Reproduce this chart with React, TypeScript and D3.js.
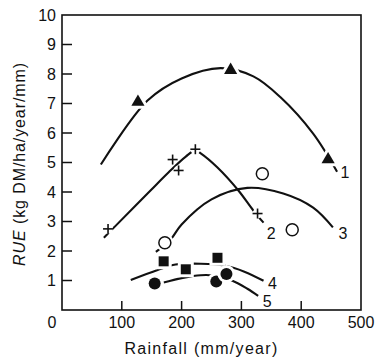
import React from 'react';
import * as d3 from 'd3';

// fitted curves (rainfall mm/year, RUE)
const curve1 = [[65, 4.93], [143, 7.1], [200, 7.85], [265, 8.2], [320, 7.92], [365, 7.22], [420, 5.98], [460, 4.69]];
const curve2 = [[70, 2.45], [90, 2.86], [148, 4.05], [178, 4.66], [207, 5.2], [223, 5.41], [232, 5.31], [260, 4.83], [295, 4.05], [320, 3.37], [337, 2.96]];
const curve3 = [[157, 1.97], [182, 2.4], [200, 2.9], [250, 3.75], [310, 4.14], [370, 3.95], [420, 3.47], [453, 2.8]];
const curve4 = [[115, 1.02], [160, 1.36], [190, 1.54], [232, 1.57], [273, 1.5], [305, 1.3], [337, 0.99]];
const curve5 = [[170, 0.93], [202, 1.09], [232, 1.18], [253, 1.17], [285, 0.99], [310, 0.72], [328, 0.48]];

// observed points
const triangles = [[127, 7.05], [282, 8.13], [445, 5.1]];
const pluses = [[77, 2.75], [185, 5.1], [195, 4.73], [223, 5.45], [327, 3.27]];
const openCircles = [[172, 2.28], [335, 4.62], [385, 2.72]];
const squares = [[170, 1.65], [207, 1.38], [260, 1.77]];
const dots = [[155, 0.9], [258, 0.97], [275, 1.22]];

// curve number labels
const curveLabels = [
  { text: '1', x: 473, y: 4.65 },
  { text: '2', x: 350, y: 2.6 },
  { text: '3', x: 470, y: 2.6 },
  { text: '4', x: 352, y: 0.9 },
  { text: '5', x: 343, y: 0.3 },
];

const xTicks = [100, 200, 300, 400, 500];
const yTicks = [1, 2, 3, 4, 5, 6, 7, 8, 9, 10];

const W = 378;
const H = 360;
const FONT = '"Liberation Sans", Arial, sans-serif';

const App: React.FC = () => {
  const x = d3.scaleLinear().domain([0, 500]).range([62, 361]);
  const y = d3.scaleLinear().domain([0, 10]).range([310, 15]);

  const line = d3.line<number[]>()
    .x(d => x(d[0]))
    .y(d => y(d[1]))
    .curve(d3.curveCatmullRom);

  const tri = d3.symbol().type(d3.symbolTriangle).size(75)()!;
  const sq = d3.symbol().type(d3.symbolSquare).size(100)()!;

  const halo = { fill: '#fff', stroke: '#fff', strokeWidth: 6 };

  return (
    <svg width={W} height={H} style={{ position: 'absolute', left: 0, top: 0, background: '#fff' }}>
      {/* curves */}
      {[curve1, curve2, curve3, curve4, curve5].map((c, i) => (
        <path key={i} d={line(c as any) || ''} fill="none" stroke="#111" strokeWidth={2.1} />
      ))}

      {/* markers with white halo so lines break around them */}
      {triangles.map((p, i) => (
        <g key={'t' + i} transform={`translate(${x(p[0])},${y(p[1])})`}>
          <path d={tri} {...halo} />
          <path d={tri} fill="#111" />
        </g>
      ))}
      {pluses.map((p, i) => (
        <g key={'p' + i} transform={`translate(${x(p[0])},${y(p[1])})`}>
          <circle r={5} fill="#fff" />
          <line x1={-5} x2={5} y1={0} y2={0} stroke="#111" strokeWidth={1.6} />
          <line x1={0} x2={0} y1={-5} y2={5} stroke="#111" strokeWidth={1.6} />
        </g>
      ))}
      {openCircles.map((p, i) => (
        <g key={'o' + i} transform={`translate(${x(p[0])},${y(p[1])})`}>
          <circle r={6} {...halo} />
          <circle r={6} fill="#fff" stroke="#111" strokeWidth={1.5} />
        </g>
      ))}
      {squares.map((p, i) => (
        <g key={'s' + i} transform={`translate(${x(p[0])},${y(p[1])})`}>
          <path d={sq} {...halo} />
          <path d={sq} fill="#111" />
        </g>
      ))}
      {dots.map((p, i) => (
        <g key={'d' + i} transform={`translate(${x(p[0])},${y(p[1])})`}>
          <circle r={6} {...halo} />
          <circle r={6} fill="#111" />
        </g>
      ))}

      {curveLabels.map(l => (
        <text key={l.text} x={x(l.x)} y={y(l.y)} fontFamily={FONT} fontSize={16} fill="#111" textAnchor="middle" dominantBaseline="central">
          {l.text}
        </text>
      ))}

      {/* frame */}
      <rect x={x(0)} y={y(10)} width={x(500) - x(0)} height={y(0) - y(10)} fill="none" stroke="#111" strokeWidth={1.6} />

      {/* y ticks (inside) */}
      {yTicks.map(t => (
        <g key={'y' + t}>
          {t < 10 && <line x1={x(0)} x2={x(0) + 10} y1={y(t)} y2={y(t)} stroke="#111" strokeWidth={1.5} />}
          <text x={x(0) - 6} y={y(t)} textAnchor="end" dominantBaseline="central" fontFamily={FONT} fontSize={16} fill="#111">{t}</text>
        </g>
      ))}

      {/* x ticks (inside) */}
      {xTicks.map(t => (
        <g key={'x' + t}>
          {t < 500 && <line x1={x(t)} x2={x(t)} y1={y(0)} y2={y(0) - 9} stroke="#111" strokeWidth={1.5} />}
          <text x={x(t)} y={y(0) + 18} textAnchor="middle" fontFamily={FONT} fontSize={16} fill="#111">{t}</text>
        </g>
      ))}
      <text x={x(0) - 10} y={y(0) + 18} textAnchor="middle" fontFamily={FONT} fontSize={16} fill="#111">0</text>

      {/* axis titles */}
      <text x={x(250) - 10} y={354} textAnchor="middle" fontFamily={FONT} fontSize={16} letterSpacing={1.3} fill="#111">
        Rainfall (mm/year)
      </text>
      <text transform={`translate(25,164) rotate(-90)`} textAnchor="middle" fontFamily={FONT} fontSize={16} letterSpacing={0.9} fill="#111">
        <tspan fontStyle="italic">RUE</tspan> (kg DM/ha/year/mm)
      </text>
    </svg>
  );
};

export default App;
